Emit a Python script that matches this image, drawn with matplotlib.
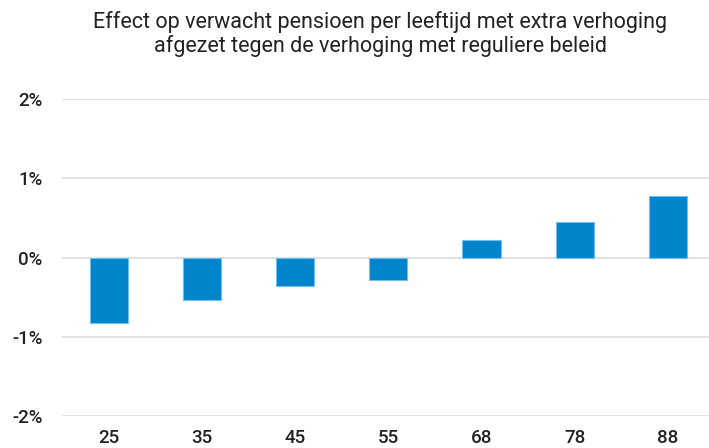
import matplotlib
matplotlib.use("Agg")
import matplotlib.pyplot as plt
from matplotlib.ticker import FuncFormatter

ages = ["25", "35", "45", "55", "68", "78", "88"]
effect = [-0.83, -0.54, -0.36, -0.28, 0.22, 0.45, 0.78]
yticks = [-2, -1, 0, 1, 2]
title = "Effect op verwacht pensioen per leeftijd met extra verhoging\nafgezet tegen de verhoging met reguliere beleid"

plt.rcParams['font.family'] = ['Roboto', 'DejaVu Sans']

fig = plt.figure(figsize=(7.09, 4.48), dpi=100)
ax = fig.add_axes([62/709, 32/448, 1 - 62/709, (416-99)/448])

x = list(range(len(ages)))
ax.bar(x, effect, width=0.41, color="#0084CC", edgecolor="#6FC0EE", linewidth=0.8, zorder=3)

ax.set_xlim(-0.5, 6.44)
ax.set_ylim(-2, 2)
ax.set_yticks(yticks)
ax.yaxis.set_major_formatter(FuncFormatter(lambda v, p: f"{int(v)}%"))
ax.set_xticks(x)
ax.set_xticklabels(ages)
ax.grid(axis="y", color="#DDDDDD", linewidth=1.2, zorder=0)
for s in ax.spines.values():
    s.set_visible(False)
ax.tick_params(axis="both", length=0, labelsize=13.5, colors="#222222")
for lbl in ax.get_xticklabels() + ax.get_yticklabels():
    lbl.set_fontweight("medium")
ax.tick_params(axis="y", pad=14)
ax.tick_params(axis="x", pad=9)

fig.text(380/709, 1 - 34/448, title, ha="center", va="center", fontsize=15.5,
         color="#222222", linespacing=1.08)

fig.savefig("out.png", dpi=100)
